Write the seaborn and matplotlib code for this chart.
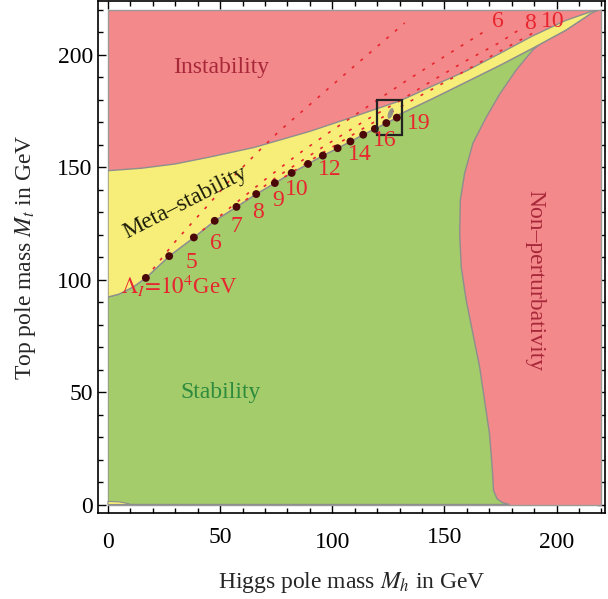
import matplotlib
matplotlib.use("Agg")
import matplotlib.pyplot as plt
import seaborn as sns
import pandas as pd
from matplotlib.patches import Rectangle, Ellipse
from matplotlib.ticker import MultipleLocator
from matplotlib.transforms import ScaledTranslation

# ---- phase boundaries in the (M_h, M_t) plane, GeV ----
# absolute stability boundary (stability / meta-stability)
stab_mh = [0, 5, 11.3, 16.9, 27.3, 38.3, 47.6, 57.3, 66.1, 74.4, 81.9, 89.2, 95.8,
           102.4, 108.1, 113.8, 119.0, 124.1, 128.8, 130, 145, 160, 175, 189.4,
           204.3, 213.2, 215]
stab_mt = [92.3, 93.6, 96.8, 100.8, 110.5, 118.8, 126.2, 132.4, 138.1, 143.0, 147.5,
           151.5, 155.2, 158.5, 161.5, 164.5, 167.1, 169.7, 172.1, 173.6, 180.7, 188.1,
           195.5, 203.0, 211.1, 217.0, 218.3]

# instability boundary (meta-stability / instability)
inst_mh = [0, 15, 30, 45, 65, 90, 108, 130, 145, 160, 175, 189, 204, 216, 220]
inst_mt = [148.5, 149.6, 151.5, 154.5, 158.8, 166.0, 172.0, 179.5, 186.3, 193.0,
           200.8, 208.3, 215.3, 219.5, 220.3]

# non-perturbativity boundary
npert_mh = [215, 213.2, 204.3, 196.8, 189.4, 182, 174.6, 168.5, 162.7, 159, 157.1,
            156.8, 157.5, 159.7, 162.7, 165.7, 167.9, 170.1, 171.3, 171.9, 173.5,
            176, 179]
npert_mt = [218.3, 217.6, 212.6, 208.2, 202.2, 193.3, 182.5, 172.0, 160.7, 147.3,
            135.4, 120.6, 105.7, 90.9, 76.0, 61.2, 46.3, 31.5, 16.6, 6.2, 2.5, 0.8, 0]

# small meta-stable sliver at very low masses
sliver_mh = [0, 0, 5, 9, 10]
sliver_mt = [0, 1.4, 1.2, 0.4, 0]

# instability scale on the stability boundary: log10(Lambda_I / GeV)
dot_exp = list(range(4, 20))
dot_mh = [16.9, 27.3, 38.3, 47.6, 57.3, 66.1, 74.4, 81.9, 89.2, 95.8, 102.4, 108.1,
          113.8, 119.0, 124.1, 128.8]
dot_mt = [100.8, 110.5, 118.8, 126.2, 132.4, 138.1, 143.0, 147.5, 151.5, 155.2, 158.5,
          161.5, 164.5, 167.1, 169.7, 172.1]
labeled_exp = [5, 6, 7, 8, 9, 10, 12, 14, 16, 19]

# dotted contours of constant instability scale
contours = {
    4: ([16.9, 30.6, 44.0, 55.0, 67.7, 76.6, 107.8, 132.3],
        [100.8, 117.7, 132.5, 145.0, 157.7, 166.3, 193.3, 214.2]),
    6: ([38.3, 55, 70, 85, 100, 115, 133, 150, 169.2],
        [118.8, 132.5, 144.5, 156.0, 166.5, 176.5, 188.5, 199.3, 211.3]),
    8: ([57.3, 75, 95, 115, 130, 142.7, 158.2, 174.6, 182.7],
        [132.4, 145.5, 158.5, 171.0, 179.5, 187.4, 196.6, 205.5, 210.8]),
    10: ([74.4, 95, 115, 135, 155, 175, 190],
         [143.0, 156.0, 168.0, 179.5, 190.5, 201.8, 210.0]),
}
top_label_exp = [6, 8, 10]
top_label_mh = [173.8, 188.0, 198.3]
top_label_mt = [214.8, 214.1, 214.8]

# measured region and zoom box
exp_mh, exp_mt = 126.0, 174.0
box_mh = [120.0, 131.0]
box_mt = [164.5, 180.0]

RED = "#F3898A"
YELLOW = "#F6EE78"
GREEN = "#A4CC6A"
EDGE = "#8E8E8E"
LABEL_RED = "#E8262F"

sns.set_theme(style="ticks")
plt.rcParams["font.family"] = ["Liberation Serif", "DejaVu Serif"]
plt.rcParams["mathtext.fontset"] = "stix"

fig = plt.figure(figsize=(6.08, 5.99), dpi=100)
ax = fig.add_axes([0.1617, 0.1431, 0.8334, 0.8553])
ax.set_xlim(-4.3, 221.6)
ax.set_ylim(-3.9, 224.0)

clip = Rectangle((0, 0), 220, 220, transform=ax.transData)

# regions
ax.add_patch(Rectangle((0, 0), 220, 220, facecolor=RED, edgecolor="#9a9a9a",
                       lw=1.0, zorder=1))
gx = [0, 0] + stab_mh + npert_mh
gy = [0, stab_mt[0]] + stab_mt + npert_mt
for p in ax.fill(gx, gy, facecolor=GREEN, edgecolor=EDGE, lw=1.0, zorder=2):
    p.set_clip_path(clip)
yx = stab_mh + [220] + inst_mh[::-1]
yy = stab_mt + [220.6] + inst_mt[::-1]
for p in ax.fill(yx, yy, facecolor=YELLOW, edgecolor=EDGE, lw=1.0, zorder=3):
    p.set_clip_path(clip)
ax.fill(sliver_mh, sliver_mt, facecolor=YELLOW, edgecolor=EDGE, lw=0.8, zorder=3)

# dotted contours
rows = []
for e, (xs, ys) in contours.items():
    for i, (x, y) in enumerate(zip(xs, ys)):
        rows.append({"mh": x, "mt": y, "exp": e, "order": i})
cdf = pd.DataFrame(rows)
for e, g in cdf.groupby("exp"):
    sns.lineplot(data=g, x="mh", y="mt", sort=False, ax=ax, color=LABEL_RED,
                 lw=1.2, linestyle=(0, (1.8, 5)), zorder=4, legend=False)

# measured region and box
ax.add_patch(Ellipse((exp_mh, exp_mt), 2.2, 5.0, angle=-20, facecolor="#8a8a8a",
                     edgecolor="none", alpha=0.9, zorder=5))
ax.add_patch(Rectangle((box_mh[0], box_mt[0]), box_mh[1] - box_mh[0],
                       box_mt[1] - box_mt[0], fill=False, edgecolor="#222222",
                       lw=1.6, zorder=7))

# instability-scale dots
ddf = pd.DataFrame({"mh": dot_mh, "mt": dot_mt, "exp": dot_exp})
sns.scatterplot(data=ddf, x="mh", y="mt", ax=ax, color="#4A0808", s=32,
                edgecolor="none", zorder=6, legend=False)

for e, x, y in zip(dot_exp, dot_mh, dot_mt):
    if e in labeled_exp:
        ax.annotate(str(e), (x, y), xytext=(15.8, -8.3), textcoords="offset points",
                    ha="center", va="baseline", fontsize=17, color=LABEL_RED,
                    zorder=8)
ax.text(5.8, 93.6, r"$\Lambda_I\!=\!10^4$GeV", ha="left", va="baseline",
        fontsize=16.5, color=LABEL_RED, zorder=8)
for e, x, y in zip(top_label_exp, top_label_mh, top_label_mt):
    ax.text(x, y, str(e), ha="center", va="center", fontsize=17, color=LABEL_RED,
            zorder=8)

# region names
ax.text(50.3, 194.4, "Instability", ha="center", va="center", fontsize=17,
        color="#A8283A", zorder=8)
ax.text(50.3, 50.0, "Stability", ha="center", va="center", fontsize=17,
        color="#2E8B3E", zorder=8)
ax.text(34.7, 134.5, "Meta\u2013stability", ha="center", va="center", fontsize=17,
        rotation=27, rotation_mode="anchor", color="#1e1e0a", zorder=8)
ax.text(190.4, 99.5, "Non\u2013perturbativity", ha="center", va="center",
        fontsize=17, rotation=-90, color="#A8283A", zorder=8)

# axes frame and ticks
ax.xaxis.set_major_locator(MultipleLocator(50))
ax.xaxis.set_minor_locator(MultipleLocator(10))
ax.yaxis.set_major_locator(MultipleLocator(50))
ax.yaxis.set_minor_locator(MultipleLocator(10))
ax.tick_params(which="both", direction="in", top=True, right=True, colors="black",
               width=1.0, labelsize=17)
ax.tick_params(which="major", length=6)
ax.tick_params(which="minor", length=3.5)
ax.tick_params(axis="x", pad=10)
ax.tick_params(axis="y", pad=4)
for s in ax.spines.values():
    s.set_color("black")
    s.set_linewidth(1.2)
ax.grid(False)

# alternate x tick labels sit a little lower
for i, lab in enumerate(ax.get_xticklabels()):
    if i % 2 == 1:
        lab.set_transform(lab.get_transform() +
                          ScaledTranslation(0, -5 / 100, fig.dpi_scale_trans))

ax.set_xlabel(r"Higgs pole mass $M_h$ in GeV", fontsize=17, labelpad=12)
ax.set_ylabel(r"Top pole mass $M_t$ in GeV", fontsize=17, labelpad=14)

fig.savefig("out.png", dpi=100)
